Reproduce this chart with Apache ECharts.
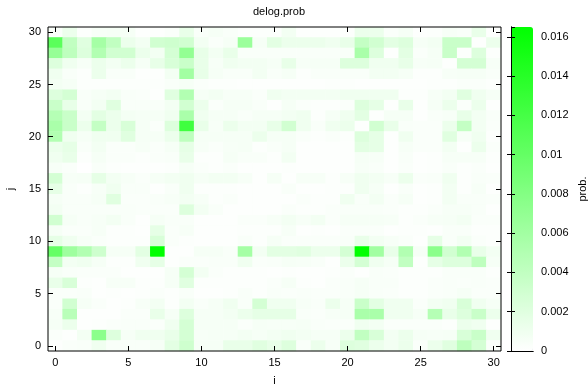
<!DOCTYPE html>
<html>
<head>
<meta charset="utf-8">
<script src="https://cdn.jsdelivr.net/npm/echarts@6/dist/echarts.min.js"></script>
<style>
  html, body { margin: 0; padding: 0; background: #fff; }
  #chart { width: 588px; height: 387px; }
</style>
</head>
<body>
<div id="chart"></div>
<script>
// i / j categories (0..30)
const iCats = ["0","1","2","3","4","5","6","7","8","9","10","11","12","13","14","15",
  "16","17","18","19","20","21","22","23","24","25","26","27","28","29","30"];
const jCats = iCats.slice();

// prob values in units of 1e-4, rows from j=30 (top) down to j=0, columns i=0..30
const probRows = [
  [3,12,2,5,6,6,1,1,3,14,4,6,4,2,2,2, 8,1,1,1,2,12,12,3,6,1,2,5,4,14,1],
  [107,40,20,58,40,12,8,30,32,30,8,3,6,65,6,18, 12,12,12,10,14,38,30,18,22,6,8,35,35,1,12],
  [68,42,22,50,30,30,12,8,28,70,15,8,14,4,4,4, 4,4,4,4,4,55,22,1,18,3,6,35,2,22,2],
  [22,10,5,12,8,12,6,15,25,35,14,5,10,8,8,6, 15,5,6,6,22,22,10,10,15,5,6,1,28,28,5],
  [10,4,2,12,4,4,1,1,8,60,15,6,4,4,8,4, 6,2,4,4,4,4,8,8,6,2,2,5,6,6,4],
  [8,6,2,2,2,2,2,2,4,6,3,2,2,1,1,1, 1,1,1,2,2,1,1,1,1,1,2,2,3,3,2],
  [22,28,4,6,8,4,3,1,20,50,6,8,5,5,3,10, 8,8,8,8,10,10,10,10,2,2,5,8,20,10,6],
  [35,15,4,8,20,4,4,4,8,30,12,3,6,6,4,1, 6,3,2,2,3,22,16,1,14,1,6,12,3,12,1],
  [48,35,8,18,12,7,6,6,10,55,10,6,6,4,6,6, 8,10,2,6,10,18,1,6,6,1,4,5,15,8,4],
  [55,35,12,38,12,25,6,3,22,124,14,5,12,8,8,15, 30,10,4,10,12,1,30,14,4,3,3,12,38,8,3],
  [50,10,6,10,10,20,6,6,12,42,6,6,6,6,12,6, 6,3,2,3,2,22,16,1,10,3,3,20,5,10,2],
  [12,16,4,8,3,3,5,3,6,16,5,3,5,6,2,4, 6,1,1,1,1,18,16,1,5,3,3,8,1,12,3],
  [10,14,2,6,3,3,2,3,4,14,2,2,6,4,4,2, 8,1,1,1,1,6,5,1,4,1,2,5,5,5,2],
  [5,3,0,4,2,1,1,1,2,6,3,2,3,1,1,1, 2,1,1,1,1,5,4,1,3,1,2,4,2,3,1],
  [28,5,6,16,8,5,3,6,8,10,6,8,8,5,1,6, 1,5,5,2,5,10,8,5,12,3,4,10,2,4,3],
  [16,4,2,5,10,4,4,1,4,10,2,2,2,1,1,1, 4,1,1,2,2,10,6,1,4,1,2,8,2,5,1],
  [6,4,4,6,20,3,3,4,5,8,5,2,3,1,1,1, 1,3,2,2,10,4,8,3,6,1,2,8,4,4,3],
  [8,4,4,4,4,4,3,3,3,22,8,4,1,1,1,1, 3,2,2,3,4,4,4,3,2,2,3,5,5,4,1],
  [30,6,4,5,8,4,1,6,4,4,1,1,1,3,3,5, 8,5,8,3,6,6,6,5,2,3,5,6,8,3,3],
  [6,3,3,5,2,2,1,16,3,5,1,1,1,2,2,2, 5,1,2,1,3,3,3,1,2,2,1,4,4,2,2],
  [16,10,5,3,2,2,2,25,3,2,1,1,1,4,2,6, 3,3,3,3,4,14,8,5,3,1,16,4,8,3,2],
  [100,62,50,32,6,6,18,165,1,1,6,6,4,58,8,18, 18,20,12,12,28,165,60,14,50,6,75,30,50,14,8],
  [38,8,10,6,2,2,10,16,1,3,3,4,4,10,3,4, 6,5,4,1,12,28,10,6,40,1,16,22,22,42,6],
  [6,4,3,3,3,1,1,1,6,28,8,3,2,2,2,1, 2,1,1,2,3,1,4,3,2,2,2,4,4,4,2],
  [14,25,2,1,5,5,2,2,6,20,2,2,2,2,2,3, 6,2,1,3,4,6,4,4,2,2,3,4,3,4,3],
  [3,3,4,1,2,1,2,3,2,4,1,1,2,4,2,4, 3,4,3,3,4,6,4,3,2,2,3,4,6,3,3],
  [3,30,6,3,1,2,5,8,2,8,4,6,10,4,28,10, 10,5,4,12,6,35,18,10,10,3,8,10,25,10,6],
  [5,45,1,1,1,3,3,14,6,22,6,6,8,12,16,16, 16,4,3,5,6,55,55,10,10,6,48,14,22,35,12],
  [6,12,1,2,3,4,4,3,10,28,6,6,6,3,6,5, 5,6,4,3,3,10,8,3,3,3,3,2,12,10,1],
  [3,1,8,75,22,6,10,10,14,28,5,6,6,8,6,8, 10,8,6,6,12,40,25,8,12,6,5,6,25,35,10],
  [1,3,4,10,4,4,4,6,18,32,6,6,14,14,20,15, 22,4,12,5,22,20,12,8,12,3,12,20,42,28,3]
];

const probMax = 0.0165;
const fontFamily = '"Liberation Sans", Arial, sans-serif';

// build [i, j, prob] triples
const data = [];
probRows.forEach(function (row, r) {
  const j = 30 - r;
  row.forEach(function (v, i) {
    data.push([i, j, v * 1e-4]);
  });
});

const chart = echarts.init(document.getElementById('chart'));

const labelStyle = { color: '#000', fontSize: 11, fontFamily: fontFamily };
const tickInside = { show: true, inside: true, length: 5, alignWithLabel: true, interval: 4,
  lineStyle: { color: '#000' } };

chart.setOption({
  animation: false,
  backgroundColor: '#fff',
  title: {
    text: 'delog.prob',
    left: 274,
    top: 1,
    textAlign: 'center',
    textStyle: { fontSize: 11, fontWeight: 'normal', color: '#000', fontFamily: fontFamily }
  },
  grid: [
    { left: 48, top: 27, right: 87, bottom: 36, show: true, borderColor: '#000', borderWidth: 1,
      z: 10, outerBoundsMode: 'none' },
    { left: 511, top: 27, width: 22, height: 324, show: false, outerBoundsMode: 'none' }
  ],
  xAxis: [
    {
      type: 'category', gridIndex: 0, data: iCats, position: 'bottom',
      name: 'i', nameLocation: 'middle', nameGap: 24,
      nameTextStyle: labelStyle,
      axisLine: { show: false },
      axisTick: tickInside,
      axisLabel: Object.assign({ interval: 4, margin: 6 }, labelStyle),
      splitLine: { show: false }, z: 10
    },
    {
      type: 'category', gridIndex: 0, data: iCats, position: 'top',
      axisLine: { show: false },
      axisTick: tickInside,
      axisLabel: { show: false },
      splitLine: { show: false }, z: 10
    },
    {
      type: 'value', gridIndex: 1, min: 0, max: 1, position: 'bottom',
      axisLine: { show: true, lineStyle: { color: '#000' } },
      axisTick: { show: false }, axisLabel: { show: false }, splitLine: { show: false }, z: 10
    },
    {
      type: 'value', gridIndex: 1, min: 0, max: 1, position: 'top',
      axisLine: { show: true, lineStyle: { color: '#000' } },
      axisTick: { show: false }, axisLabel: { show: false }, splitLine: { show: false }, z: 10
    }
  ],
  yAxis: [
    {
      type: 'category', gridIndex: 0, data: jCats, position: 'left',
      name: 'j', nameLocation: 'middle', nameGap: 32, nameRotate: 90,
      nameTextStyle: labelStyle,
      axisLine: { show: false },
      axisTick: tickInside,
      axisLabel: Object.assign({ interval: 4, margin: 7 }, labelStyle),
      splitLine: { show: false }, z: 10
    },
    {
      type: 'category', gridIndex: 0, data: jCats, position: 'right',
      axisLine: { show: false },
      axisTick: tickInside,
      axisLabel: { show: false },
      splitLine: { show: false }, z: 10
    },
    {
      type: 'value', gridIndex: 1, min: 0, max: probMax, interval: 0.002, position: 'right',
      name: 'prob.', nameLocation: 'middle', nameGap: 44, nameRotate: 90,
      nameTextStyle: labelStyle,
      axisLine: { show: true, lineStyle: { color: '#000' } },
      axisTick: { show: true, inside: true, length: 4, lineStyle: { color: '#000' } },
      axisLabel: Object.assign({
        margin: 8, showMaxLabel: false,
        formatter: function (v) { return String(+v.toFixed(3)); }
      }, labelStyle),
      splitLine: { show: false }, z: 10
    },
    {
      type: 'value', gridIndex: 1, min: 0, max: probMax, interval: 0.002, position: 'left',
      axisLine: { show: true, lineStyle: { color: '#000' } },
      axisTick: { show: true, inside: true, length: 4, lineStyle: { color: '#000' } },
      axisLabel: { show: false },
      splitLine: { show: false }, z: 10
    }
  ],
  visualMap: {
    type: 'continuous',
    min: 0,
    max: probMax,
    calculable: false,
    seriesIndex: 0,
    left: 511,
    top: 27,
    padding: 0,
    itemWidth: 22,
    itemHeight: 324,
    text: null,
    inRange: { color: ['#ffffff', '#00ff00'] }
  },
  series: [{
    type: 'heatmap',
    xAxisIndex: 0,
    yAxisIndex: 0,
    data: data,
    itemStyle: { borderWidth: 0 },
    emphasis: { disabled: true }
  }]
});
</script>
</body>
</html>
